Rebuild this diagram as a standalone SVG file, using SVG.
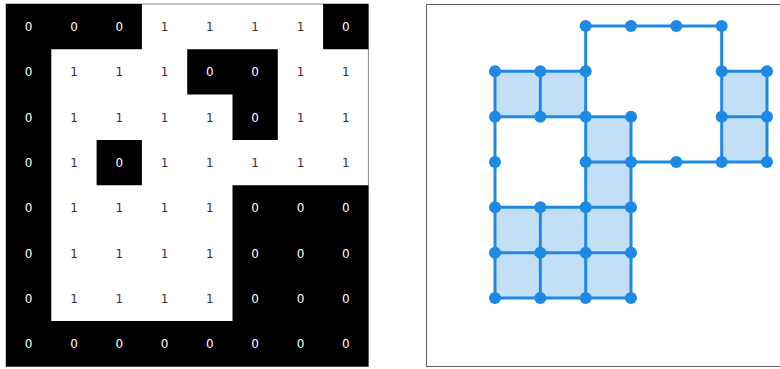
<svg xmlns="http://www.w3.org/2000/svg" width="780" height="369" viewBox="0 0 780 369">
<style>
.blk{fill:#000}
.t{font-family:"DejaVu Sans",sans-serif;font-size:12px;text-anchor:middle}
.w{fill:#fff}
.d{fill:#333}
.cell{fill:#c2dff7}
.e{stroke:#1e88e5;stroke-width:3;fill:none;stroke-linecap:round}
.n{fill:#1e88e5}
</style>
<rect width="780" height="369" fill="#fff"/>
<g id="grid">
<rect x="6" y="4" width="362.4" height="362.4" fill="none" stroke="#888" stroke-width="1"/>
<path class="blk" d="M6 4H141.9V49.3H51.3V321.1H232.5V185.2H368.4V366.4H6Z M323.1 4H368.4V49.3H323.1Z M187.2 49.3H277.8V139.9H232.5V94.6H187.2Z M96.6 139.9H141.9V185.2H96.6Z"/>
<g class="t">
<text x="28.65" y="31" class="w">0</text><text x="73.95" y="31" class="w">0</text><text x="119.25" y="31" class="w">0</text><text x="164.55" y="31" class="d">1</text><text x="209.85" y="31" class="d">1</text><text x="255.15" y="31" class="d">1</text><text x="300.45" y="31" class="d">1</text><text x="345.75" y="31" class="w">0</text>
<text x="28.65" y="76.3" class="w">0</text><text x="73.95" y="76.3" class="d">1</text><text x="119.25" y="76.3" class="d">1</text><text x="164.55" y="76.3" class="d">1</text><text x="209.85" y="76.3" class="w">0</text><text x="255.15" y="76.3" class="w">0</text><text x="300.45" y="76.3" class="d">1</text><text x="345.75" y="76.3" class="d">1</text>
<text x="28.65" y="121.6" class="w">0</text><text x="73.95" y="121.6" class="d">1</text><text x="119.25" y="121.6" class="d">1</text><text x="164.55" y="121.6" class="d">1</text><text x="209.85" y="121.6" class="d">1</text><text x="255.15" y="121.6" class="w">0</text><text x="300.45" y="121.6" class="d">1</text><text x="345.75" y="121.6" class="d">1</text>
<text x="28.65" y="166.9" class="w">0</text><text x="73.95" y="166.9" class="d">1</text><text x="119.25" y="166.9" class="w">0</text><text x="164.55" y="166.9" class="d">1</text><text x="209.85" y="166.9" class="d">1</text><text x="255.15" y="166.9" class="d">1</text><text x="300.45" y="166.9" class="d">1</text><text x="345.75" y="166.9" class="d">1</text>
<text x="28.65" y="212.2" class="w">0</text><text x="73.95" y="212.2" class="d">1</text><text x="119.25" y="212.2" class="d">1</text><text x="164.55" y="212.2" class="d">1</text><text x="209.85" y="212.2" class="d">1</text><text x="255.15" y="212.2" class="w">0</text><text x="300.45" y="212.2" class="w">0</text><text x="345.75" y="212.2" class="w">0</text>
<text x="28.65" y="257.5" class="w">0</text><text x="73.95" y="257.5" class="d">1</text><text x="119.25" y="257.5" class="d">1</text><text x="164.55" y="257.5" class="d">1</text><text x="209.85" y="257.5" class="d">1</text><text x="255.15" y="257.5" class="w">0</text><text x="300.45" y="257.5" class="w">0</text><text x="345.75" y="257.5" class="w">0</text>
<text x="28.65" y="302.8" class="w">0</text><text x="73.95" y="302.8" class="d">1</text><text x="119.25" y="302.8" class="d">1</text><text x="164.55" y="302.8" class="d">1</text><text x="209.85" y="302.8" class="d">1</text><text x="255.15" y="302.8" class="w">0</text><text x="300.45" y="302.8" class="w">0</text><text x="345.75" y="302.8" class="w">0</text>
<text x="28.65" y="348.1" class="w">0</text><text x="73.95" y="348.1" class="w">0</text><text x="119.25" y="348.1" class="w">0</text><text x="164.55" y="348.1" class="w">0</text><text x="209.85" y="348.1" class="w">0</text><text x="255.15" y="348.1" class="w">0</text><text x="300.45" y="348.1" class="w">0</text><text x="345.75" y="348.1" class="w">0</text>
</g>
</g>
<g id="panel">
<rect x="426.5" y="4.5" width="370" height="362" fill="none" stroke="#666" stroke-width="1"/>
</g>
<g id="cells">
<rect class="cell" x="495" y="71.3" width="90.7" height="45.4"/>
<rect class="cell" x="721.7" y="71.3" width="45.3" height="90.7"/>
<rect class="cell" x="585.7" y="116.7" width="45.3" height="90.6"/>
<rect class="cell" x="495" y="207.3" width="136" height="90.7"/>
</g>
<g id="connectors" class="e">
<path d="M585.7 26H721.7V162 M495 71.3H585.7 M721.7 71.3H767V162H585.7 M495 116.7H631 M721.7 116.7H767 M495 71.3V298 M540.3 71.3V116.7 M585.7 26V298 M631 116.7V298 M495 207.3H631 M495 252.7H631 M495 298H631 M540.3 207.3V298"/>
</g>
<g id="nodes" class="n">
<circle cx="585.7" cy="26" r="6"/><circle cx="631" cy="26" r="6"/><circle cx="676.3" cy="26" r="6"/><circle cx="721.7" cy="26" r="6"/>
<circle cx="495" cy="71.3" r="6"/><circle cx="540.3" cy="71.3" r="6"/><circle cx="585.7" cy="71.3" r="6"/><circle cx="721.7" cy="71.3" r="6"/><circle cx="767" cy="71.3" r="6"/>
<circle cx="495" cy="116.7" r="6"/><circle cx="540.3" cy="116.7" r="6"/><circle cx="585.7" cy="116.7" r="6"/><circle cx="631" cy="116.7" r="6"/><circle cx="721.7" cy="116.7" r="6"/><circle cx="767" cy="116.7" r="6"/>
<circle cx="495" cy="162" r="6"/><circle cx="585.7" cy="162" r="6"/><circle cx="631" cy="162" r="6"/><circle cx="676.3" cy="162" r="6"/><circle cx="721.7" cy="162" r="6"/><circle cx="767" cy="162" r="6"/>
<circle cx="495" cy="207.3" r="6"/><circle cx="540.3" cy="207.3" r="6"/><circle cx="585.7" cy="207.3" r="6"/><circle cx="631" cy="207.3" r="6"/>
<circle cx="495" cy="252.7" r="6"/><circle cx="540.3" cy="252.7" r="6"/><circle cx="585.7" cy="252.7" r="6"/><circle cx="631" cy="252.7" r="6"/>
<circle cx="495" cy="298" r="6"/><circle cx="540.3" cy="298" r="6"/><circle cx="585.7" cy="298" r="6"/><circle cx="631" cy="298" r="6"/>
</g>
</svg>
